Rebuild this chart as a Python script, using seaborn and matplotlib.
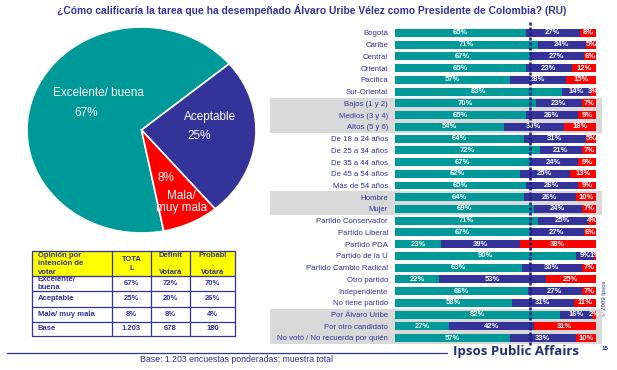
import matplotlib
matplotlib.use("Agg")
import matplotlib.pyplot as plt
import matplotlib.transforms as mtransforms
from matplotlib.patches import Rectangle
import seaborn as sns
import pandas as pd
import numpy as np

# ---------------- data ----------------
categories = ["Bogotá", "Caribe", "Central", "Oriental", "Pacífica", "Sur-Oriental",
              "Bajos (1 y 2)", "Medios (3 y 4)", "Altos (5 y 6)",
              "De 18 a 24 años", "De 25 a 34 años", "De 35 a 44 años",
              "De 45 a 54 años", "Más de 54 años",
              "Hombre", "Mujer",
              "Partido Conservador", "Partido Liberal", "Partido PDA", "Partido de la U",
              "Partido Cambio Radical", "Otro partido", "Independiente", "No tiene partido",
              "Por Álvaro Uribe", "Por otro candidato", "No votó / No recuerda por quién"]
excelente = [65, 71, 67, 65, 57, 83, 70, 65, 54, 64, 72, 67, 62, 65, 64, 69,
             71, 67, 23, 90, 63, 22, 66, 58, 82, 27, 57]
aceptable = [27, 24, 27, 23, 28, 14, 23, 26, 30, 31, 21, 24, 25, 26, 26, 24,
             25, 27, 39, 9, 30, 53, 27, 31, 16, 42, 33]
mala = [8, 5, 6, 12, 15, 3, 7, 9, 16, 5, 7, 9, 13, 9, 10, 7,
        4, 6, 38, 1, 7, 25, 7, 11, 2, 31, 10]
shaded_groups = [(6, 8), (14, 15), (24, 26)]

pie_labels = ["Excelente/ buena", "Aceptable", "Mala/\nmuy mala"]
pie_values = [67, 25, 8]

table_header = ["Opinión por\nintención de\nvotar", "TOTA\nL", "Definit\n.\nVotará", "Probabl\n.\nVotará"]
table_rows = ["Excelente/\nbuena", "Aceptable", "Mala/ muy mala", "Base"]
table_total = ["67%", "25%", "8%", "1.203"]
table_definit = ["72%", "20%", "8%", "678"]
table_probabl = ["70%", "26%", "4%", "180"]

title = "¿Cómo calificaría la tarea que ha desempeñado Álvaro Uribe Vélez como Presidente de Colombia? (RU)"
base_note = "Base: 1.203 encuestas ponderadas; muestra total"

# ---------------- style ----------------
TEAL = "#009999"
NAVY = "#333399"
RED = "#FF0000"
TXT = "#333399"
sns.set_style("white")
plt.rcParams["font.family"] = ["Liberation Sans", "DejaVu Sans"]

W, H = 617, 370
fig = plt.figure(figsize=(W / 100, H / 100), dpi=100)
fig.patch.set_facecolor("white")

def fx(px):
    return px / W

def fy(py):
    return 1 - py / H

# overlay axes in pixel coords for annotations / table
axo = fig.add_axes([0, 0, 1, 1])
axo.set_xlim(0, W)
axo.set_ylim(H, 0)
axo.axis("off")
axo.patch.set_visible(False)

# title
axo.text(312, 10, title, ha="center", va="center", fontsize=7.4, fontweight="bold", color=TXT)

# ---------------- pie ----------------
pie_left, pie_top, pie_w, pie_h = 27, 27, 229, 206
axp = fig.add_axes([fx(pie_left), fy(pie_top + pie_h), pie_w / W, pie_h / H])
axp.pie(pie_values, colors=[TEAL, NAVY, RED], startangle=281.2, counterclock=False,
        wedgeprops=dict(edgecolor="white", linewidth=1.2))
axp.set_aspect("auto")
axp.set_xlim(-1, 1)
axp.set_ylim(-1, 1)
pie_txt_pos = [((-0.38, 0.36), (-0.48, 0.165)),
               ((0.60, 0.126), (0.50, -0.06)),
               ((0.35, -0.70), (0.21, -0.47))]
for lab, val, (p_lab, p_val) in zip(pie_labels, pie_values, pie_txt_pos):
    axp.text(*p_lab, lab, ha="center", va="center", color="white", fontsize=8.5,
             linespacing=1.05)
    axp.text(*p_val, f"{val}%", ha="center", va="center", color="white", fontsize=8.5)

# ---------------- stacked bars ----------------
n = len(categories)
row_top, row_bot = 33, 338
step = (row_bot - row_top) / (n - 1)
bx0, bx1 = 395, 596
ax_top = row_top - step / 2
ax_bot = row_bot + step / 2
axb = fig.add_axes([fx(bx0), fy(ax_bot), (bx1 - bx0) / W, (ax_bot - ax_top) / H])

df = pd.DataFrame({"cat": categories, "exc": excelente, "ace": aceptable, "mal": mala})
df["c2"] = df["exc"] + df["ace"]
df["c3"] = df["c2"] + df["mal"]

sns.barplot(data=df, x="c3", y="cat", color=RED, width=0.68, saturation=1,
            orient="h", ax=axb, order=categories, zorder=2, linewidth=0)
sns.barplot(data=df, x="c2", y="cat", color=NAVY, width=0.68, saturation=1,
            orient="h", ax=axb, order=categories, zorder=3, linewidth=0)
sns.barplot(data=df, x="exc", y="cat", color=TEAL, width=0.68, saturation=1,
            orient="h", ax=axb, order=categories, zorder=4, linewidth=0)
axb.set_xlim(0, 100)
axb.set_ylim(n - 0.5, -0.5)
axb.set_xlabel("")
axb.set_ylabel("")
axb.set_xticks([])
axb.tick_params(axis="y", length=0, pad=5, labelsize=5.6, labelcolor=TXT)
for s in axb.spines.values():
    s.set_visible(False)
axb.patch.set_visible(False)

# grey shaded bands
blend = mtransforms.blended_transform_factory(fig.transFigure, axb.transData)
for a, b in shaded_groups:
    r = Rectangle((fx(270), a - 0.5), fx(602) - fx(270), b - a + 1, transform=blend,
                  facecolor="#D9D9D9", edgecolor="none", zorder=0, clip_on=False)
    axb.add_patch(r)

# segment labels
for i, row in df.iterrows():
    segs = [(0, row["exc"]), (row["exc"], row["ace"]), (row["c2"], row["mal"])]
    for start, width in segs:
        axb.text(start + width / 2, i, f"{width}%", ha="center", va="center",
                 color="white", fontsize=5.5, fontweight="bold", zorder=6)

# dotted reference line at total "excelente/buena"
axb.axvline(pie_values[0], ymin=-0.005, ymax=1.018, color="#1a1a80", lw=1.8,
            linestyle=(0, (1.2, 0.8)), zorder=7, clip_on=False)

# ---------------- table ----------------
col_x = [32, 112, 151, 190, 235]
row_y = [251, 275.5, 291, 306.5, 322, 336]
axo.add_patch(Rectangle((col_x[0], row_y[0]), col_x[-1] - col_x[0], row_y[1] - row_y[0],
                        facecolor="#FFFF00", edgecolor="none", zorder=1))
for x in col_x:
    axo.plot([x, x], [row_y[0], row_y[-1]], color=NAVY, lw=0.9, zorder=3)
for y in row_y:
    axo.plot([col_x[0], col_x[-1]], [y, y], color=NAVY, lw=0.9, zorder=3)

tfs = 5.5
axo.text(38, 252, table_header[0], ha="left", va="top", fontsize=tfs, fontweight="bold",
         color=TXT, linespacing=1.25, zorder=4)
for j, hdr in enumerate(table_header[1:], start=1):
    cx = (col_x[j] + col_x[j + 1]) / 2
    axo.text(cx, 264, hdr, ha="center", va="center", fontsize=tfs, fontweight="bold",
             color=TXT, linespacing=1.3, zorder=4)

cols = [table_total, table_definit, table_probabl]
for i, lab in enumerate(table_rows):
    cy = (row_y[i + 1] + row_y[i + 2]) / 2
    axo.text(38, cy, lab, ha="left", va="center", fontsize=tfs, fontweight="bold",
             color=TXT, linespacing=1.25, zorder=4)
    for j, col in enumerate(cols, start=1):
        cx = (col_x[j] + col_x[j + 1]) / 2
        axo.text(cx, cy, col[i], ha="center", va="center", fontsize=tfs,
                 fontweight="bold", color=TXT, zorder=4)

# ---------------- footer ----------------
axo.plot([7, 447], [352.5, 352.5], color=NAVY, lw=0.9)
axo.text(140, 360, base_note, ha="left", va="center", fontsize=6.3, color=TXT)
axo.text(516, 352, "Ipsos Public Affairs", ha="center", va="center", fontsize=9.5,
         fontweight="bold", color="#1F2F75", family=["Open Sans", "DejaVu Sans"])
axo.text(605, 348, "15", ha="center", va="center", fontsize=4.5, fontweight="bold", color="#1F2F75")
axo.text(604, 298, "© 2009 Ipsos", ha="center", va="center", fontsize=4.3, color=TXT,
         rotation=90)

fig.savefig("out.png", dpi=100, facecolor="white")
